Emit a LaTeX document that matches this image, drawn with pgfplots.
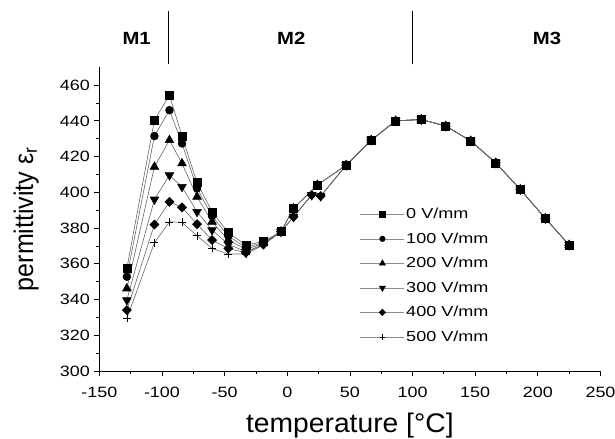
\documentclass[border=0pt]{standalone}
\usepackage{fontspec}
\setmainfont{Liberation Sans}
\usepackage{graphicx}
\usepackage{pgfplots}
\pgfplotsset{compat=1.18}
\newcommand\sx[1]{\scalebox{1.2}[1]{#1}}
\newcommand\lx[1]{\scalebox{1.25}[1]{#1}}
\begin{document}
\begin{tikzpicture}
\begin{axis}[
  name=ax,
  scale only axis,
  width=501.2bp, height=303.7bp,
  xmin=-150, xmax=250, ymin=300, ymax=470,
  axis x line*=bottom, axis y line*=left,
  axis line style={black, line width=0.8pt},
  xtick={-150,-100,...,250},
  ytick={300,320,...,460},
  minor x tick num=1, minor y tick num=1,
  tick align=outside,
  major tick length=5bp, minor tick length=3bp,
  tick style={black, line width=0.8pt},
  /pgf/number format/assume math mode=true,
  xticklabel={\sx{\pgfmathprintnumber{\tick}}},
  yticklabel={\sx{\pgfmathprintnumber{\tick}}},
  tick label style={font=\fontsize{15}{17}\selectfont},
  xticklabel style={yshift=-8bp},
  yticklabel style={xshift=-1bp},
  xlabel={\scalebox{1.05}[1]{temperature [°C]}},
  ylabel={\scalebox{0.93}[1]{permittivity ε\textsubscript{r}}},
  xlabel style={font=\fontsize{27}{30}\selectfont, at={(axis description cs:0.5,-0.178)}, anchor=center},
  ylabel style={font=\fontsize{27}{30}\selectfont, at={(axis description cs:-0.146,0.5)}, anchor=center},
  clip=false,
  legend style={at={(axis cs:58,391.7)}, anchor=north west, draw=none, fill=none,
    font=\fontsize{14.5}{16}\selectfont, inner sep=0pt, row sep=10.5bp,
    nodes={inner sep=1.5bp, text height=10bp, text depth=1bp},
    /tikz/every even column/.append style={column sep=3bp}},
  legend cell align=left,
  legend image code/.code={\draw[#1, black!45, every mark/.append style={scale=0.7}, mark repeat=2, mark phase=2] plot coordinates {(0bp,0bp) (22bp,0bp) (44bp,0bp)};},
  every axis plot/.append style={line width=0.6pt, color=black!60},
]
\addplot[mark=square*, mark size=4pt, mark options={black, fill=black}] coordinates {
(-128,357.4) (-106,440.4) (-94,454.4) (-84,431.5) (-72,405.4) (-60,389.1) (-47,377.4) (-33,370.5) (-19,372.5) (-5,378) (5,391) (24,404.1) (47,415.2) (67,429.2) (86.5,440) (107,440.8) (126.5,437.1) (146.4,428.8) (166.4,416.5) (186,401.6) (206,385.4) (225,370.5)};
\addlegendentry{\lx{0 V/mm}}
\addplot[mark=*, mark size=3.9pt, mark options={black, fill=black}] coordinates {
(-128,352.8) (-106,431.5) (-94,446) (-84,427.4) (-72,402.2) (-60,386.7) (-47,375.5) (-33,369.2) (-19,372) (-5,378) (5,391) (24,404.1) (47,415.2) (67,429.2) (86.5,440) (107,440.8) (126.5,437.1) (146.4,428.8) (166.4,416.5) (186,401.6) (206,385.4) (225,370.5)};
\addlegendentry{\lx{100 V/mm}}
\addplot[mark=triangle*, mark size=5pt, mark options={black, fill=black}] coordinates {
(-128,346.2) (-106,414.3) (-94,429.2) (-84,416.2) (-72,397.5) (-60,383.5) (-47,373.3) (-33,368.1) (-19,371.5) (-5,378) (5,391) (24,404.1) (47,415.2) (67,429.2) (86.5,440) (107,440.8) (126.5,437.1) (146.4,428.8) (166.4,416.5) (186,401.6) (206,385.4) (225,370.5)};
\addlegendentry{\lx{200 V/mm}}
\addplot[mark=triangle*, mark size=5pt, mark options={black, fill=black, rotate=180}] coordinates {
(-128,339.7) (-106,396) (-94,409.6) (-84,403.1) (-72,389.1) (-60,378.9) (-47,370.9) (-33,366.8) (-19,371) (-5,378) (5,386.3) (19.5,398.5) (26.7,397.9) (47,415.2) (67,429.2) (86.5,440) (107,440.8) (126.5,437.1) (146.4,428.8) (166.4,416.5) (186,401.6) (206,385.4) (225,370.5)};
\addlegendentry{\lx{300 V/mm}}
\addplot[mark=square*, mark size=3.2pt, mark options={black, fill=black, rotate=45}] coordinates {
(-128,334.1) (-106,382) (-94,394.7) (-84,391.6) (-72,382.2) (-60,373.3) (-47,368.6) (-33,366.2) (-19,370.8) (-5,378) (5,386.3) (19.5,398.5) (26.7,397.9) (47,415.2) (67,429.2) (86.5,440) (107,440.8) (126.5,437.1) (146.4,428.8) (166.4,416.5) (186,401.6) (206,385.4) (225,370.5)};
\addlegendentry{\lx{400 V/mm}}
\addplot[mark=+, mark size=4pt, mark options={black, line width=0.6pt}] coordinates {
(-128,329.5) (-106,371.8) (-94,383.5) (-84,383.2) (-72,375.7) (-60,368.6) (-47,365.5) (-33,365.5) (-19,370.5) (-5,378) (5,386.3) (19.5,398.5) (26.7,397.9) (47,415.2) (67,429.2) (86.5,440) (107,440.8) (126.5,437.1) (146.4,428.8) (166.4,416.5) (186,401.6) (206,385.4) (225,370.5)};
\addlegendentry{\lx{500 V/mm}}
\draw[black, line width=0.8pt] (axis cs:-95,471.7) -- (axis cs:-95,501.5);
\draw[black, line width=0.8pt] (axis cs:100,471.7) -- (axis cs:100,501.5);
\node[font=\bfseries\fontsize{17.7}{20}\selectfont] at (axis cs:-120.2,486) {\scalebox{1.15}[1]{M1}};
\node[font=\bfseries\fontsize{17.7}{20}\selectfont] at (axis cs:3.2,486) {\scalebox{1.15}[1]{M2}};
\node[font=\bfseries\fontsize{17.7}{20}\selectfont] at (axis cs:207.3,486) {\scalebox{1.15}[1]{M3}};
\end{axis}
\pgfresetboundingbox
\path ([xshift=-99.3bp,yshift=-68bp]ax.south west) rectangle ([xshift=14.5bp,yshift=67.3bp]ax.north east);
\end{tikzpicture}
\end{document}
